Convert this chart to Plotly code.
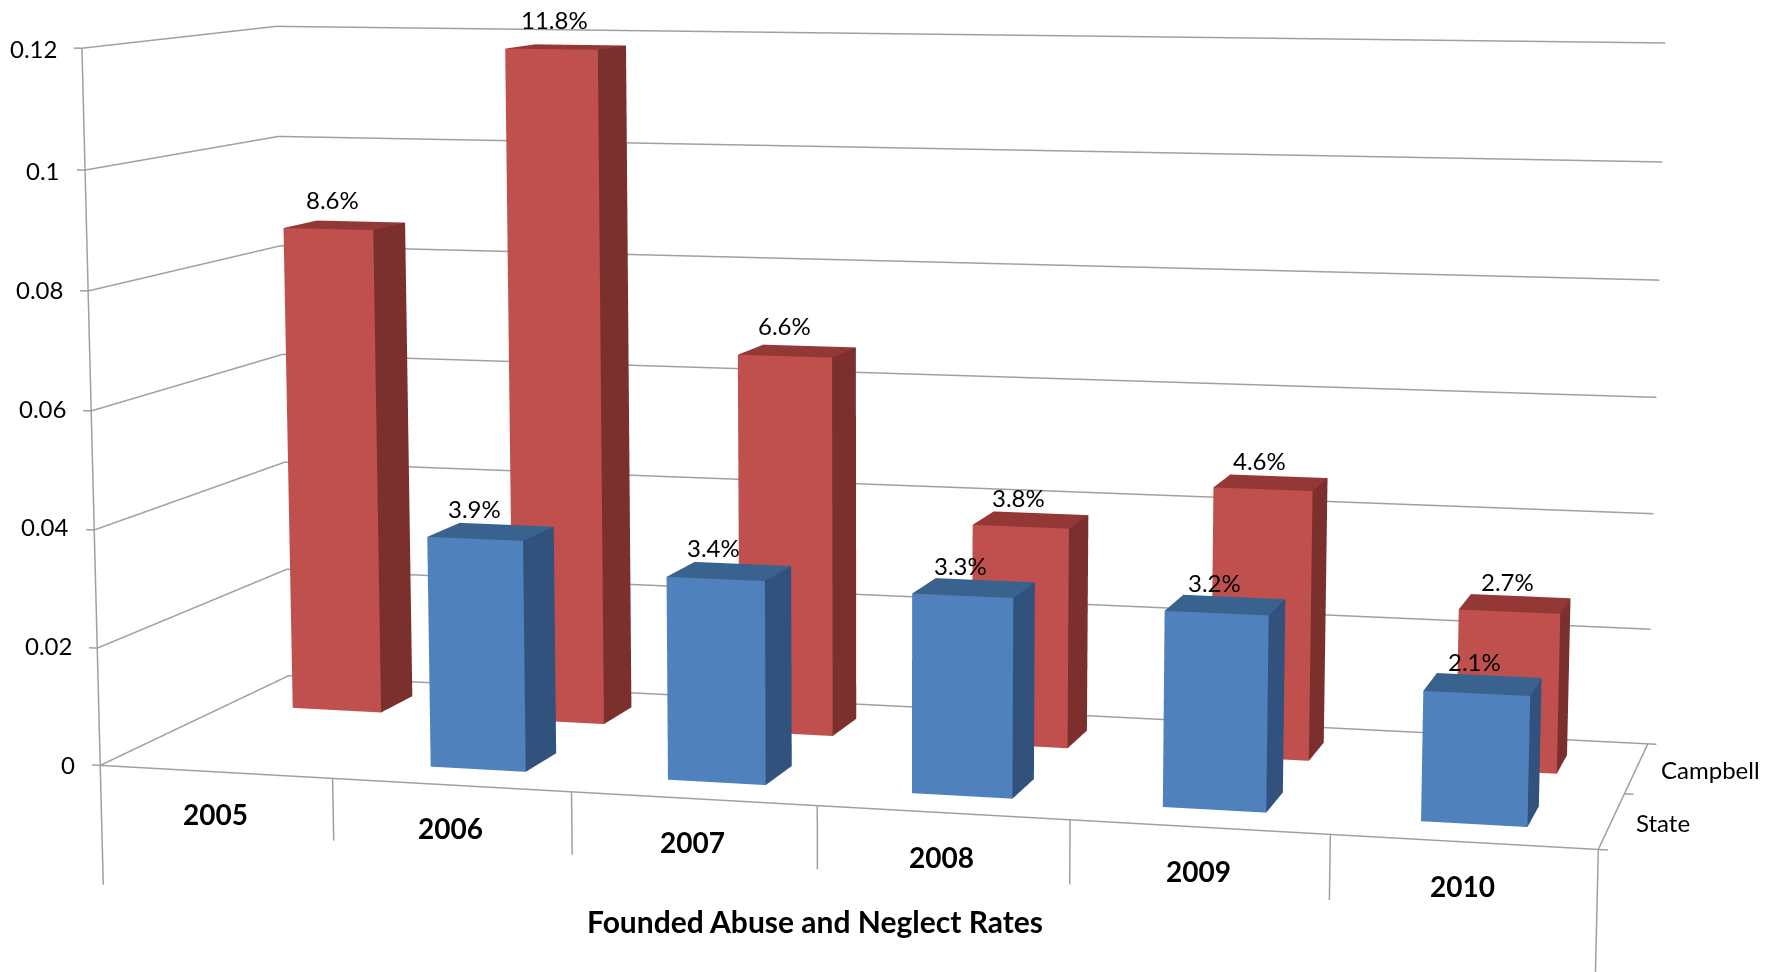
import plotly.graph_objects as go

years = ["2005", "2006", "2007", "2008", "2009", "2010"]
state_values = [None, 0.039, 0.034, 0.033, 0.032, 0.021]
campbell_values = [0.086, 0.118, 0.066, 0.038, 0.046, 0.027]
value_ticks = [0, 0.02, 0.04, 0.06, 0.08, 0.1, 0.12]
series_names = ["State", "Campbell"]
title_text = "Founded Abuse and Neglect Rates"

XR = (-0.1, 6.1); YR = (0.0, 2.0); ZR = (-0.03, 0.125)
W = 1767; WH = 972
H = 3757
top = (H - WH) // 2
bw = 0.4039; bd = 0.3768

state_nudge = [None, (-32, 0), (-29, 0), (-25, -2), (-20, -2), (-15, -3)]
campbell_nudge = [(-28, 6), (-26, 9), (-25, 4), (-22, -1), (-19, -1), (-13, -2)]
tick_nudge = [1, 3, 3, 2, 1, 0, 0]

GRID = "#A0A0A0"
data = []

def box_mesh(vals, yc, cols, name):
    X = []; Y = []; Z = []; I = []; J = []; K = []; FC = []
    for i, val in enumerate(vals):
        if val is None:
            continue
        x0 = i + .5 - bw / 2; x1 = i + .5 + bw / 2; y0 = yc - bd / 2; y1 = yc + bd / 2
        n = len(X)
        X += [x0, x1, x1, x0, x0, x1, x1, x0]
        Y += [y0, y0, y1, y1, y0, y0, y1, y1]
        Z += [0, 0, 0, 0, val, val, val, val]
        for (a, b, c_), col in [((0, 1, 5), cols[0]), ((0, 5, 4), cols[0]), ((1, 2, 6), cols[1]),
                                ((1, 6, 5), cols[1]), ((4, 5, 6), cols[2]), ((4, 6, 7), cols[2])]:
            I.append(n + a); J.append(n + b); K.append(n + c_); FC.append(col)
    return go.Mesh3d(x=X, y=Y, z=Z, i=I, j=J, k=K, facecolor=FC, flatshading=True, name=name, hoverinfo="skip",
                     lighting=dict(ambient=1, diffuse=0, specular=0, roughness=1, fresnel=0), showscale=False)

def line(xs, ys, zs):
    return go.Scatter3d(x=xs, y=ys, z=zs, mode="lines", line=dict(color=GRID, width=3), hoverinfo="skip", showlegend=False)

for t in value_ticks[1:]:
    data.append(line([0, 0, 6], [0, 2, 2], [t, t, t]))
for t in value_ticks:
    data.append(line([-0.035, 0], [0, 0], [t, t]))
data.append(line([0, 6, 6, 0, 0], [0, 0, 2, 2, 0], [0, 0, 0, 0, 0]))
data.append(line([0, 0], [0, 0], [0, 0.12]))
data.append(line([0, 0], [0, 0], [0, -0.0205]))
data.append(line([6, 6], [0, 0], [0, -0.0205]))
for i in range(1, 6):
    data.append(line([i, i], [0, 0], [0, -0.0105]))
for yy in (0, 1, 2):
    data.append(line([6, 6.035], [yy, yy], [0, 0]))
data.append(box_mesh(campbell_values, 1.5, ("#C0504D", "#7B302E", "#943836"), series_names[1]))
data.append(box_mesh(state_values, 0.5, ("#4F81BD", "#30527C", "#3A628F"), series_names[0]))

ann = []
FONT = "Lato"

def A(x, y, z, text, size=24, bold=False, **kw):
    ann.append(dict(x=x, y=y, z=z, text=("<b>%s</b>" % text if bold else text), showarrow=False,
                    font=dict(family=FONT, size=size, color="#000000"), **kw))

for t, ny in zip(value_ticks, tick_nudge):
    A(0, 0, t, str(t), xanchor="right", yanchor="middle", xshift=-23, yshift=ny)
for i, yr in enumerate(years):
    A(i + .5, 0, -0.0075, yr, size=28, bold=True, xshift=-1 if i < 4 else 0, yshift=2 if i < 4 else 3)
A(3, 0, -0.03, title_text, size=30, bold=True, xshift=-3, yshift=66)
A(6, 1.5, 0, series_names[1], size=24, xanchor="left", xshift=23, yshift=-1)
A(6, 0.5, 0, series_names[0], size=24, xanchor="left", xshift=22, yshift=-2)
for vals, yc, nudges in ((state_values, 0.5, state_nudge), (campbell_values, 1.5, campbell_nudge)):
    for i, val in enumerate(vals):
        if val is None:
            continue
        A(i + .5, yc + bd / 2, val, "%.1f%%" % (val * 100), yanchor="bottom", xshift=nudges[i][0], yshift=nudges[i][1])

fig = go.Figure(data=data)
fig.update_layout(width=W, height=H, margin=dict(l=0, r=0, t=0, b=0), paper_bgcolor="white", showlegend=False,
    scene=dict(domain=dict(x=[0, 1], y=[0, 1]), aspectmode="manual", aspectratio=dict(x=1, y=0.3245, z=0.6005),
        camera=dict(eye=dict(x=0.7394, y=-2.8327, z=0.4223), center=dict(x=0.0017, y=-0.0051, z=-0.0050),
                    up=dict(x=-0.00165, y=0, z=1), projection=dict(type="perspective")),
        xaxis=dict(visible=False, range=list(XR)), yaxis=dict(visible=False, range=list(YR)), zaxis=dict(visible=False, range=list(ZR)),
        annotations=ann, bgcolor="white"))
post = ("var d=document.getElementById('{plot_id}');d.style.position='absolute';d.style.left='0';d.style.top='-%dpx';"
        "document.body.style.margin='0';document.body.style.overflow='hidden';document.documentElement.style.overflow='hidden';" % top)
fig.write_html("out.html", post_script=post)
